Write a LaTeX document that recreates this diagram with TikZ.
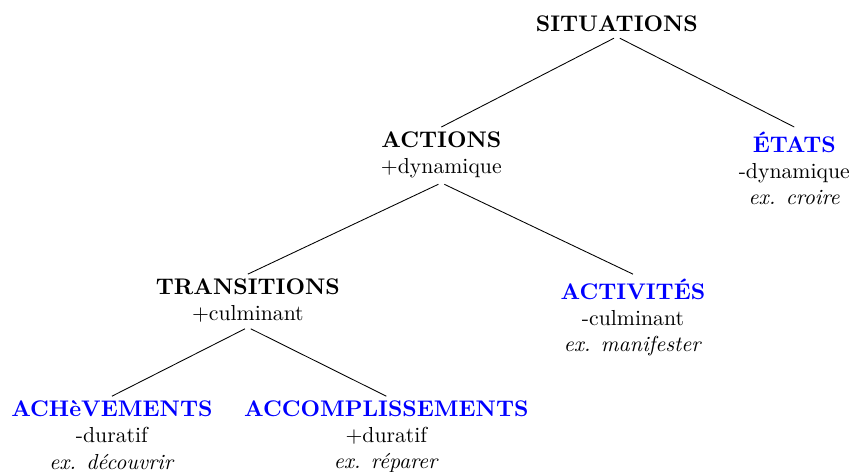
\documentclass[tikz,border=0pt]{standalone}
\usepackage{fontspec}
\usepackage{tikz}
\usetikzlibrary{positioning}

\newcommand{\cat}[1]{{\fontsize{10.4pt}{12pt}\selectfont\bfseries #1}}
\newcommand{\feuille}[1]{\textcolor{blue}{\cat{#1}}}

\begin{document}
\begin{tikzpicture}[type/.style={align=center, inner sep=2pt, anchor=north},
              branch/.style={shorten <=1.5pt}]
  \useasboundingbox (0,0) rectangle (13.80,-7.62);
  % racine
  \node[type] (sit) at (9.98,-0.18) {\cat{SITUATIONS}};
  % niveau 1
  \node[type] (act) at (7.14,-2.055) {\cat{ACTIONS}\\+dynamique};
  \node[type] (eta) at (12.85,-2.055) {\feuille{ÉTATS}\\-dynamique\\\textit{ex. croire}};
  % niveau 2
  \node[type] (tra) at (4.01,-4.435) {\cat{TRANSITIONS}\\+culminant};
  \node[type] (acv) at (10.24,-4.435) {\feuille{ACTIVITÉS}\\-culminant\\\textit{ex. manifester}};
  % niveau 3
  \node[type] (ach) at (1.81,-6.41) {\feuille{ACHèVEMENTS}\\-duratif\\\textit{ex. découvrir}};
  \node[type] (acc) at (6.25,-6.41) {\feuille{ACCOMPLISSEMENTS}\\+duratif\\\textit{ex. réparer}};

  \draw[branch] (sit.south) -- (act.north);
  \draw[branch] (sit.south) -- (eta.north);
  \draw[branch] (act.south) -- (tra.north);
  \draw[branch] (act.south) -- (acv.north);
  \draw[branch] (tra.south) -- (ach.north);
  \draw[branch] (tra.south) -- (acc.north);
\end{tikzpicture}
\end{document}
